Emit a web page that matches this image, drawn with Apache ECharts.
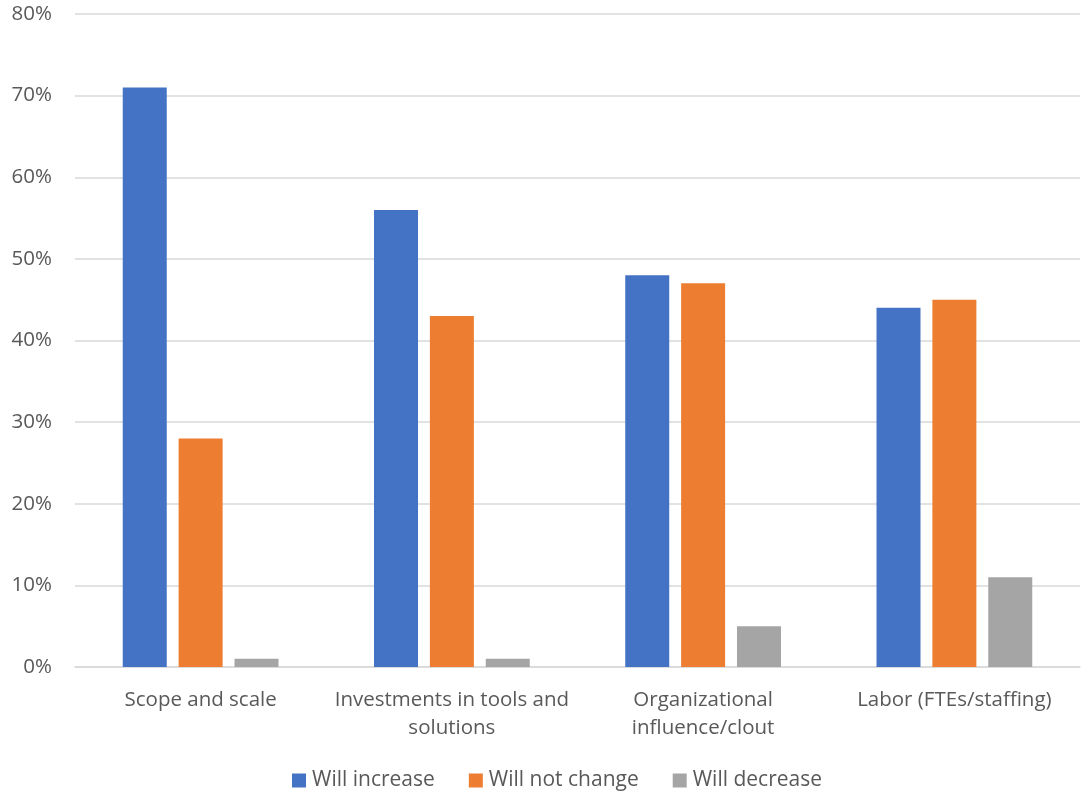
<!DOCTYPE html>
<html>
<head>
<meta charset="utf-8">
<script src="https://cdn.jsdelivr.net/npm/echarts@6/dist/echarts.min.js"></script>
<style>
  html, body { margin: 0; padding: 0; background: #ffffff; }
  #chart { width: 1082px; height: 795px; }
</style>
</head>
<body>
<div id="chart"></div>
<script>
// Expected change, by area, share of respondents (%)
const categories = [
  'Scope and scale',
  'Investments in tools and solutions',
  'Organizational influence/clout',
  'Labor (FTEs/staffing)'
];
const seriesNames = ['Will increase', 'Will not change', 'Will decrease'];
const willIncrease = [71, 56, 48, 44];
const willNotChange = [28, 43, 47, 45];
const willDecrease = [1, 1, 5, 11];
const seriesColors = ['#4472C4', '#ED7D31', '#A5A5A5'];

const FONT = '"Open Sans", "Noto Sans", sans-serif';
const TEXT = '#595959';
const FS = 20.5;

// Wrap a category name on spaces once a line would exceed maxChars
function wrapWords(s, maxChars) {
  const words = s.split(' ');
  const lines = [];
  let cur = '';
  words.forEach(w => {
    const next = cur ? cur + ' ' + w : w;
    if (next.length > maxChars && cur) { lines.push(cur); cur = w; }
    else cur = next;
  });
  if (cur) lines.push(cur);
  return lines.join('\n');
}

const chart = echarts.init(document.getElementById('chart'), null, { renderer: 'canvas' });

const values = [willIncrease, willNotChange, willDecrease];

chart.setOption({
  animation: false,
  textStyle: { fontFamily: FONT },
  grid: { left: 75, right: 2, top: 14, bottom: 128, containLabel: false },
  legend: {
    bottom: -1,
    left: 287,
    itemWidth: 14,
    itemHeight: 14,
    itemGap: 34,
    icon: 'rect',
    textStyle: { fontFamily: FONT, fontSize: 21, color: TEXT, padding: [0, 0, 0, 1] },
    data: seriesNames
  },
  xAxis: {
    type: 'category',
    data: categories,
    axisLine: { show: true, lineStyle: { color: '#D9D9D9', width: 1.5 } },
    axisTick: { show: false },
    axisLabel: {
      interval: 0,
      margin: 19,
      color: TEXT,
      fontFamily: FONT,
      fontSize: FS,
      lineHeight: 28,
      formatter: v => wrapWords(v, 25)
    }
  },
  yAxis: {
    type: 'value',
    min: 0,
    max: 80,
    interval: 10,
    axisLine: { show: false },
    axisTick: { show: false },
    splitLine: { lineStyle: { color: '#D9D9D9', width: 1.5 } },
    axisLabel: {
      margin: 23,
      color: TEXT,
      fontFamily: FONT,
      fontSize: FS,
      formatter: v => v + '%'
    }
  },
  series: seriesNames.map((name, i) => ({
    name,
    type: 'bar',
    data: values[i],
    barWidth: 44,
    barGap: '27%',
    itemStyle: { color: seriesColors[i] }
  }))
});
</script>
</body>
</html>
